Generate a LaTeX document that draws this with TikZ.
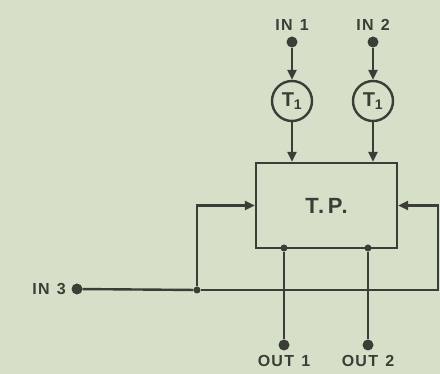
\documentclass[tikz,border=0pt]{standalone}
\usepackage{fontspec}
\setmainfont{Liberation Sans}[LetterSpace=8]
\usetikzlibrary{arrows.meta, positioning}
\definecolor{paper}{RGB}{214,224,201}
\definecolor{ink}{RGB}{58,62,54}
\newcommand{\gap}{\hspace{0.45em}}

\begin{document}
\begin{tikzpicture}[
    x=1pt, y=-1pt,
    >={Triangle[length=10pt,width=9pt]},
    font=\bfseries\fontsize{16}{18}\selectfont,
    every node/.style={text=ink},
    wire/.style={draw=ink, line width=2.4pt},
    line/.style={wire, ->},
    term/.style={circle, fill=ink, inner sep=0pt, minimum size=11pt},
    joint/.style={circle, fill=ink, inner sep=0pt, minimum size=7pt},
    delay/.style={circle, draw=ink, line width=2.4pt, inner sep=0pt, minimum size=40pt},
    proc/.style={rectangle, draw=ink, line width=2.4pt, minimum width=141pt, minimum height=85pt}
]
\fill[paper] (0,0) rectangle (440,374);
\useasboundingbox (0,0) rectangle (440,374);
\node[proc] (tp) at (326.5,205.5) {\fontsize{22}{24}\selectfont T.\,P.};
\node[delay] (t1) at (292,101) {\fontsize{20}{22}\selectfont T\textsubscript{1}};
\node[delay] (t2) at (373,101) {\fontsize{20}{22}\selectfont T\textsubscript{1}};
\node[term] (in1) at (292,42) {};
\node[term] (in2) at (373,42) {};
\node[above=2pt of in1] (in1l) {IN\gap 1};
\node[above=2pt of in2] (in2l) {IN\gap 2};
\node[term] (in3) at (77,289) {};
\node[left=2pt of in3] (in3l) {IN\gap 3};
\node[joint] (j3) at (197,290) {};
\coordinate (c3) at (438,290);
\node[joint] (s1) at (284,248) {};
\node[joint] (s2) at (368,248) {};
\node[term] (out1) at (284,345) {};
\node[term] (out2) at (368,345) {};
\node[below=1pt of out1] (out1l) {OUT\gap 1};
\node[below=1pt of out2] (out2l) {OUT\gap 2};
\draw[line] (in1) -- (t1);
\draw[line] (in2) -- (t2);
\draw[line] (t1) -- (t1 |- tp.north);
\draw[line] (t2) -- (t2 |- tp.north);
\draw[wire] (in3) -- (j3);
\draw[line] (j3) |- (tp.west);
\draw[line] (j3) -- (c3) |- (tp.east);
\draw[wire] (s1) -- (out1);
\draw[wire] (s2) -- (out2);
\end{tikzpicture}
\end{document}
